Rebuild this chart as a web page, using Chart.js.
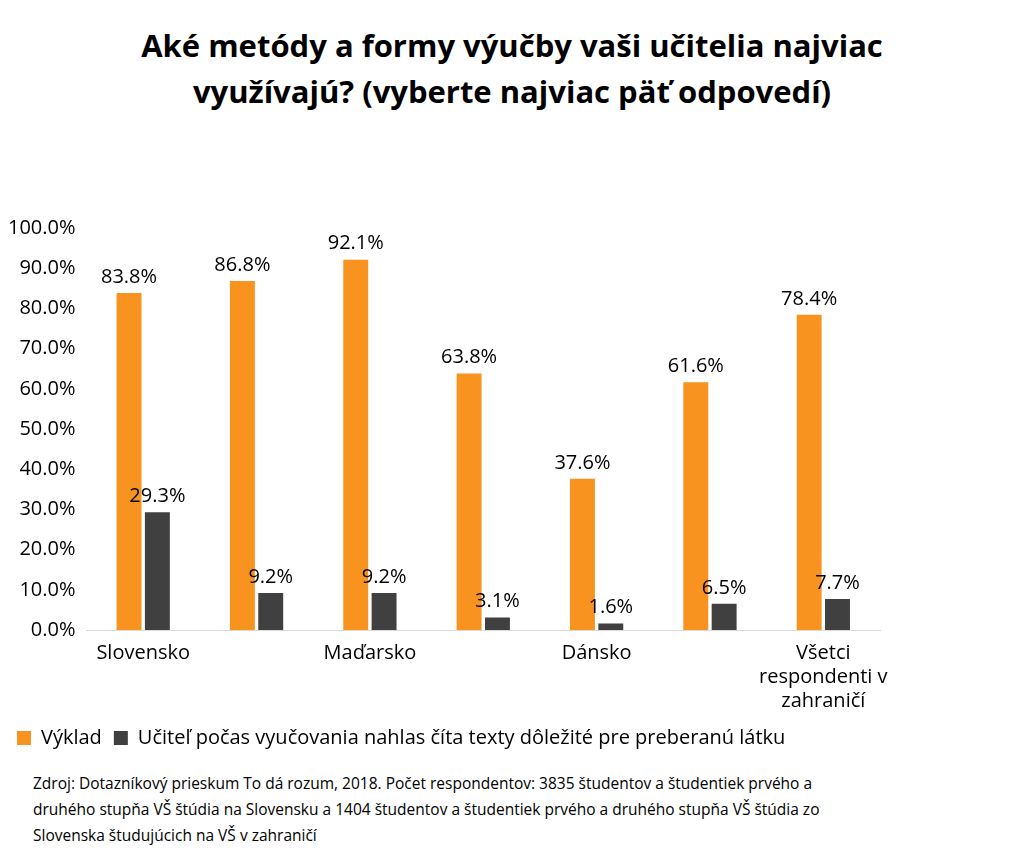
<!DOCTYPE html>
<html><head><meta charset="utf-8">
<script src="https://cdn.jsdelivr.net/npm/chart.js@4"></script>
<style>
body{margin:0;background:#fff;font-family:"Open Sans","Liberation Sans",sans-serif;}
#t{position:absolute;left:0;top:22px;width:1024px;text-align:center;font-weight:bold;font-size:31px;line-height:46px;color:#000}
#c{position:absolute;left:0;top:213px;width:1000px;height:545px}
#src{position:absolute;left:33px;top:770px;font-size:15.5px;line-height:26px;color:#000}
</style></head><body>
<div id="t">Aké metódy a formy výučby vaši učitelia najviac<br>využívajú? (vyberte najviac päť odpovedí)</div>
<div id="c"><canvas id="cv"></canvas></div>
<div id="src">Zdroj: Dotazníkový prieskum To dá rozum, 2018. Počet respondentov: 3835 študentov a študentiek prvého a<br>druhého stupňa VŠ štúdia na Slovensku a 1404 študentov a študentiek prvého a druhého stupňa VŠ štúdia zo<br>Slovenska študujúcich na VŠ v zahraničí</div>
<script>
const categories=["Slovensko","","Maďarsko","","Dánsko","",["Všetci","respondenti v","zahraničí"]];
const seriesNames=["Výklad","Učiteľ počas vyučovania nahlas číta texty dôležité pre preberanú látku"];
const vyklad=[83.8,86.8,92.1,63.8,37.6,61.6,78.4];
const citanie=[29.3,9.2,9.2,3.1,1.6,6.5,7.7];
const yTicks=[0,10,20,30,40,50,60,70,80,90,100];
const labelsPlugin={id:'vl',afterDatasetsDraw(ch){const x=ch.ctx;x.save();x.font='20px "Open Sans", sans-serif';x.fillStyle='#000';x.textAlign='center';x.textBaseline='bottom';
ch.data.datasets.forEach((d,i)=>{ch.getDatasetMeta(i).data.forEach((b,j)=>{x.fillText(d.data[j].toFixed(1)+'%',b.x,b.y-6);});});x.restore();}};
new Chart(document.getElementById('cv'),{type:'bar',
data:{labels:categories,datasets:[
{label:seriesNames[0],data:vyklad,backgroundColor:'#F7931E'},
{label:seriesNames[1],data:citanie,backgroundColor:'#404040'}]},
options:{responsive:true,maintainAspectRatio:false,animation:false,
layout:{padding:{left:5,right:120,top:10}},
datasets:{bar:{categoryPercentage:0.5,barPercentage:0.88}},
plugins:{legend:{position:'bottom',align:'start',labels:{font:{size:20,family:'"Open Sans", sans-serif'},color:'#000',boxWidth:14,boxHeight:14,padding:12}},tooltip:{enabled:false}},
scales:{x:{grid:{display:false},border:{color:'#d9d9d9'},ticks:{autoSkip:false,maxRotation:0,color:'#000',font:{size:20,family:'"Open Sans", sans-serif'}}},
y:{min:0,max:100,afterBuildTicks(a){a.ticks=yTicks.map(v=>({value:v}));},grid:{display:false},border:{display:false},
ticks:{color:'#000',font:{size:20,family:'"Open Sans", sans-serif'},callback:v=>v.toFixed(1)+'%'}}}},
plugins:[labelsPlugin]});
</script></body></html>
